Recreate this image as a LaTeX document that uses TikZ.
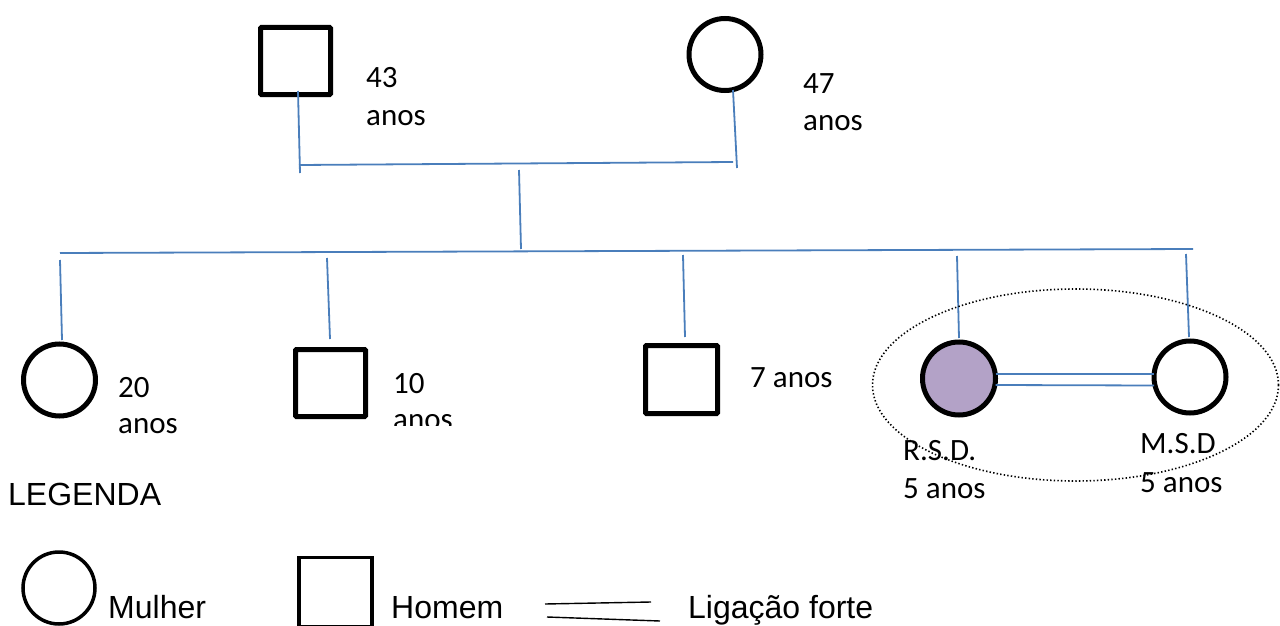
\documentclass[tikz,border=0pt]{standalone}
\usepackage{fontspec}
\setmainfont{Carlito}
\newfontfamily\legendfont{Liberation Sans}
\definecolor{linkblue}{HTML}{4A7EBB}
\definecolor{patient}{HTML}{B3A2C7}
\begin{document}
\begin{tikzpicture}[x=1pt,y=-1pt,
  person/.style={draw=black, line width=5pt, inner sep=0pt, outer sep=0pt},
  male/.style={person, rectangle, rounded corners=1pt, minimum width=70pt, minimum height=67pt},
  female/.style={person, circle, minimum size=72pt},
  rel/.style={draw=linkblue, line width=1.8pt},
  age/.style={font=\fontsize{31}{37}\selectfont, anchor=base west, align=left, inner sep=0pt},
  legtext/.style={font=\legendfont\fontsize{32}{38}\selectfont, anchor=base west, inner sep=0pt},
  legshape/.style={draw=black, line width=3.5pt, inner sep=0pt, outer sep=0pt},
  strongtie/.style={draw=black, line width=1.4pt}]
\useasboundingbox (0,0) rectangle (1280,626);

% parents
\node[male]   (fa) at (295.5,61) {};
\node[female] (mo) at (725,54.5) {};
% multi-line labels are placed by the baseline of their last line
\node[age, font=\fontsize{31}{38}\selectfont] (faage) at (366,125) {43\\anos};
\node[age] (moage) at (803,130) {47\\anos};

% children
\node[female] (c1) at (59.5,380) {};
\node[male]   (c2) at (330.5,383) {};
\node[male, minimum width=72pt, minimum height=68pt] (c3) at (681.5,379.5) {};
\node[female, fill=patient, minimum size=73pt] (rsd) at (959,378.5) {};
\node[female] (msd) at (1190,377) {};

\node[age, font=\fontsize{31}{36}\selectfont] (c1age) at (118,433) {20\\anos};
\begin{scope}
  \clip (385,350) rectangle (470,425);
  \node[age, font=\fontsize{31}{36}\selectfont] (c2age) at (393,429) {10\\anos};
\end{scope}
\node[age] (c3age) at (750,387) {7 anos};
\node[age, font=\fontsize{31}{38}\selectfont] (rsdlab) at (903,498) {R.S.D.\\5 anos};
\node[age, font=\fontsize{31}{39}\selectfont] (msdlab) at (1140,492) {M.S.D\\5 anos};

% connector end points
\coordinate (faT) at (298,91);   \coordinate (faB) at (300,173);
\coordinate (moT) at (733,90);   \coordinate (moB) at (737,168);
\coordinate (mL)  at (299,165);  \coordinate (mR)  at (733,162);
\coordinate (dT)  at (519,170);  \coordinate (dB)  at (521,249);
\coordinate (sL)  at (60,253);   \coordinate (sR)  at (1193,249);
\coordinate (c1T) at (60,260);   \coordinate (c1B) at (62,340);
\coordinate (c2T) at (327,258);  \coordinate (c2B) at (330,339);
\coordinate (c3T) at (683,255);  \coordinate (c3B) at (685,337);
\coordinate (rT)  at (957,256);  \coordinate (rB)  at (959,338);
\coordinate (mT)  at (1186,254); \coordinate (mB)  at (1189,337);

% family lines
\draw[rel] (faT) -- (faB);
\draw[rel] (moT) -- (moB);
\draw[rel] (mL) -- (mR);
\draw[rel] (dT) -- (dB);
\draw[rel] (sL) -- (sR);
\draw[rel] (c1T) -- (c1B);
\draw[rel] (c2T) -- (c2B);
\draw[rel] (c3T) -- (c3B);
\draw[rel] (rT) -- (rB);
\draw[rel] (mT) -- (mB);

% strong bond between the twins
\draw[rel] ([yshift=4.5pt]rsd.east) -- ([yshift=3pt]msd.west);
\draw[rel] ([yshift=-6.5pt]rsd.east) -- ([yshift=-8.5pt]msd.west);

% household boundary
\draw[black, line width=1.6pt, dash pattern=on 1.4pt off 2.2pt] (1075.5,385) ellipse (203 and 96);

% legend
\node[legtext] (leg) at (8,505) {LEGENDA};
\node[legshape, circle, minimum size=72pt] (lgc) at (59,588) {};
\node[legtext] (lgct) at (108,618) {Mulher};
\node[legshape, rectangle, minimum width=73pt, minimum height=69pt] (lgs) at (335.5,592) {};
\node[legtext] (lgst) at (391,618) {Homem};
\coordinate (lt1a) at (545,604); \coordinate (lt1b) at (651,602);
\coordinate (lt2a) at (547,617); \coordinate (lt2b) at (660,621);
\draw[strongtie] (lt1a) -- (lt1b);
\draw[strongtie] (lt2a) -- (lt2b);
\node[legtext] (ltt) at (688,618) {Ligação forte};
\end{tikzpicture}
\end{document}
